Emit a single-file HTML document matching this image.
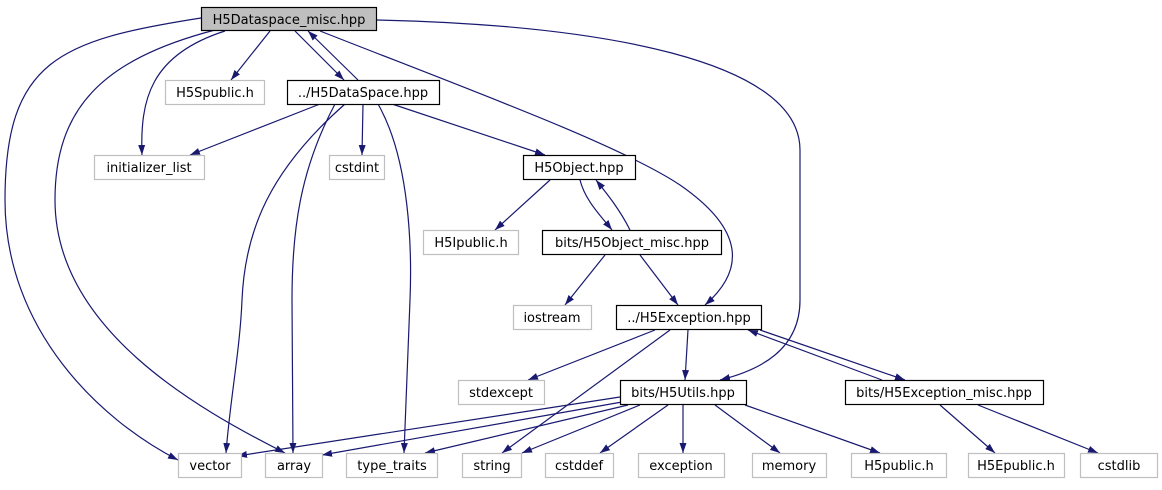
<!DOCTYPE html>
<html><head><meta charset="utf-8"><style>
html,body{margin:0;padding:0;background:#fff;}
svg text{font-family:"DejaVu Sans","Liberation Sans",sans-serif;font-size:13px;fill:#000;}
</style></head><body>
<svg width="1162" height="485" viewBox="0 0 1162 485" xmlns="http://www.w3.org/2000/svg">
<defs><marker id="a" markerWidth="10" markerHeight="8" refX="10" refY="4" orient="auto" markerUnits="userSpaceOnUse"><path d="M0,0.5 L10,4 L0,7.5 Z" fill="#191970"/></marker></defs>
<g fill="none" stroke="#191970" stroke-width="1.2" marker-end="url(#a)">
<path d="M270,31 L231,80"/>
<path d="M295,31 L344,80"/>
<path d="M358,80 L308,31"/>
<path d="M225,31 C150,55 140,100 142,155"/>
<path d="M201,18 C60,40 5,60 5,200 C5,330 100,420 178,460"/>
<path d="M215,30 C100,60 55,110 55,200 C55,330 200,410 285,453"/>
<path d="M320,31 C470,90 620,145 680,185 C745,230 745,270 705,305"/>
<path d="M377,20 C600,25 800,60 800,150 L800,300 C800,350 760,370 720,380"/>
<path d="M320,104 L190,155"/>
<path d="M345,104 C270,170 245,230 242,300 C240,350 230,400 226,453"/>
<path d="M335,104 C300,170 292,230 292,300 L293,453"/>
<path d="M363,104 L362,155"/>
<path d="M378,104 C410,160 412,250 410,300 L404,453"/>
<path d="M392,104 L545,155"/>
<path d="M550,180 L495,230"/>
<path d="M580,180 C585,200 600,215 612,230"/>
<path d="M630,230 C620,210 608,195 596,180"/>
<path d="M605,255 L565,305"/>
<path d="M640,255 L678,305"/>
<path d="M655,330 L528,380"/>
<path d="M688,330 L685,380"/>
<path d="M670,330 L502,453"/>
<path d="M760,330 L905,380"/>
<path d="M882,380 L748,330"/>
<path d="M620,397 L237,456"/>
<path d="M622,402 L322,455"/>
<path d="M628,405 L425,453"/>
<path d="M640,405 L522,453"/>
<path d="M668,405 L600,453"/>
<path d="M683,405 L683,453"/>
<path d="M715,405 L780,453"/>
<path d="M745,405 L880,453"/>
<path d="M940,405 L995,453"/>
<path d="M978,405 L1098,453"/>
</g>
<g stroke-width="1.2" text-anchor="middle">
<rect x="201.5" y="7.5" width="175" height="23" fill="#bfbfbf" stroke="#000"/><text x="289" y="24">H5Dataspace_misc.hpp</text>
<rect x="165.5" y="80.5" width="99" height="24" fill="#fff" stroke="#bfbfbf"/><text x="215" y="97">H5Spublic.h</text>
<rect x="287.5" y="80.5" width="152" height="24" fill="#fff" stroke="#000"/><text x="363" y="97">../H5DataSpace.hpp</text>
<rect x="94.5" y="155.5" width="110" height="24" fill="#fff" stroke="#bfbfbf"/><text x="149" y="172">initializer_list</text>
<rect x="329.5" y="155.5" width="55" height="24" fill="#fff" stroke="#bfbfbf"/><text x="357" y="172">cstdint</text>
<rect x="523.5" y="155.5" width="112" height="24" fill="#fff" stroke="#000"/><text x="579" y="172">H5Object.hpp</text>
<rect x="423.5" y="230.5" width="95" height="24" fill="#fff" stroke="#bfbfbf"/><text x="471" y="247">H5Ipublic.h</text>
<rect x="542.5" y="230.5" width="179" height="24" fill="#fff" stroke="#000"/><text x="632" y="247">bits/H5Object_misc.hpp</text>
<rect x="513.5" y="305.5" width="78" height="24" fill="#fff" stroke="#bfbfbf"/><text x="552" y="322">iostream</text>
<rect x="616.5" y="305.5" width="145" height="24" fill="#fff" stroke="#000"/><text x="689" y="322">../H5Exception.hpp</text>
<rect x="458.5" y="380.5" width="86" height="24" fill="#fff" stroke="#bfbfbf"/><text x="501" y="397">stdexcept</text>
<rect x="620.5" y="380.5" width="126" height="24" fill="#fff" stroke="#000"/><text x="683" y="397">bits/H5Utils.hpp</text>
<rect x="845.5" y="380.5" width="198" height="24" fill="#fff" stroke="#000"/><text x="944" y="397">bits/H5Exception_misc.hpp</text>
<rect x="178.5" y="453.5" width="63" height="24" fill="#fff" stroke="#bfbfbf"/><text x="210" y="470">vector</text>
<rect x="265.5" y="453.5" width="57" height="24" fill="#fff" stroke="#bfbfbf"/><text x="294" y="470">array</text>
<rect x="346.5" y="453.5" width="91" height="24" fill="#fff" stroke="#bfbfbf"/><text x="392" y="470">type_traits</text>
<rect x="462.5" y="453.5" width="59" height="24" fill="#fff" stroke="#bfbfbf"/><text x="492" y="470">string</text>
<rect x="545.5" y="453.5" width="68" height="24" fill="#fff" stroke="#bfbfbf"/><text x="579" y="470">cstddef</text>
<rect x="638.5" y="453.5" width="86" height="24" fill="#fff" stroke="#bfbfbf"/><text x="681" y="470">exception</text>
<rect x="752.5" y="453.5" width="74" height="24" fill="#fff" stroke="#bfbfbf"/><text x="789" y="470">memory</text>
<rect x="851.5" y="453.5" width="95" height="24" fill="#fff" stroke="#bfbfbf"/><text x="899" y="470">H5public.h</text>
<rect x="968.5" y="453.5" width="96" height="24" fill="#fff" stroke="#bfbfbf"/><text x="1016" y="470">H5Epublic.h</text>
<rect x="1080.5" y="453.5" width="77" height="24" fill="#fff" stroke="#bfbfbf"/><text x="1119" y="470">cstdlib</text>
</g>
</svg>
</body></html>
